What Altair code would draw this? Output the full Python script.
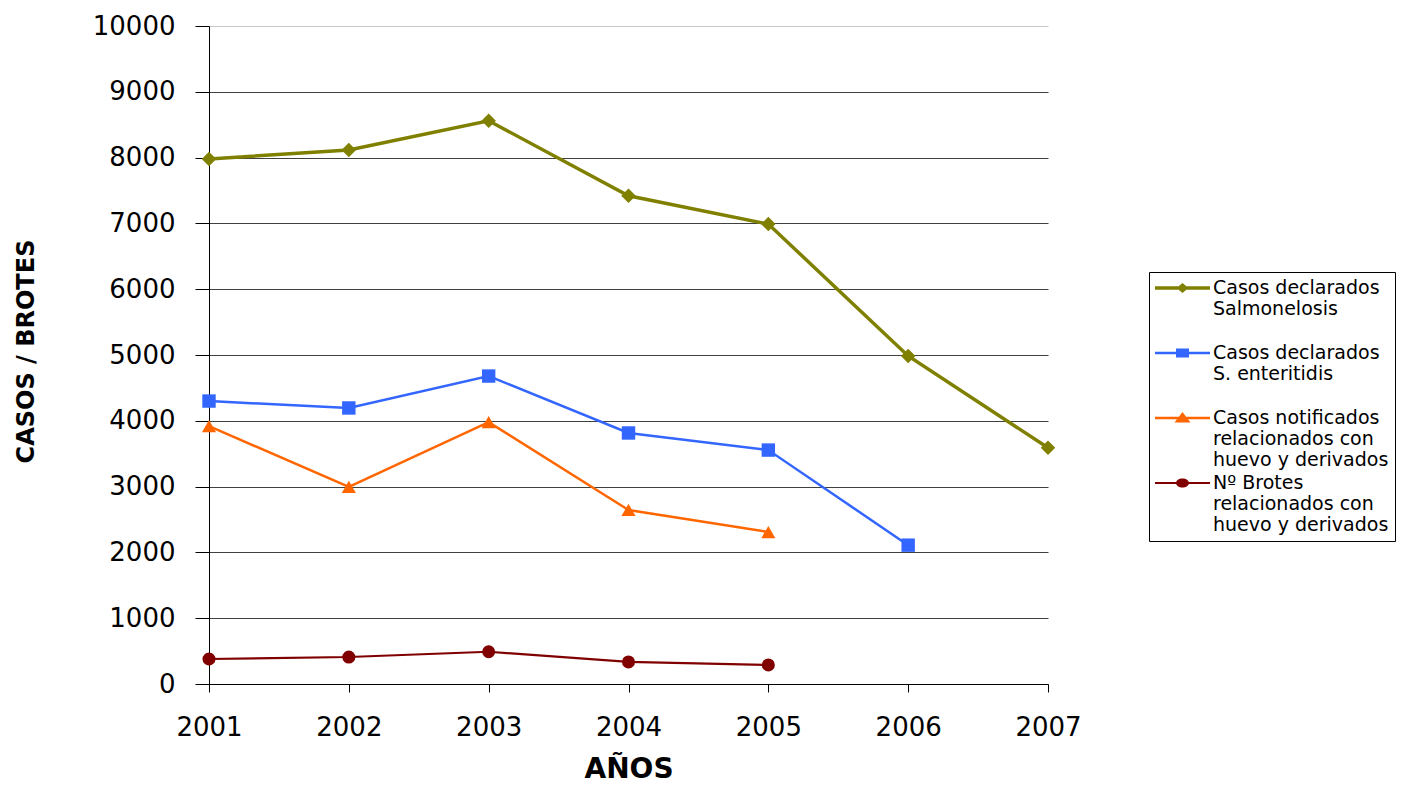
import altair as alt
import pandas as pd

years = [2001, 2002, 2003, 2004, 2005, 2006, 2007]
salmonelosis = [7980, 8115, 8560, 7420, 6990, 4985, 3590]
enteritidis = [4300, 4195, 4680, 3815, 3555, 2110, None]
notificados = [3920, 2995, 3980, 2645, 2310, None, None]
brotes = [380, 410, 490, 335, 290, None, None]

series_names = [
    "Casos declarados|Salmonelosis",
    "Casos declarados|S. enteritidis",
    "Casos notificados|relacionados con|huevo y derivados",
    "Nº Brotes|relacionados con|huevo y derivados",
]
series_values = [salmonelosis, enteritidis, notificados, brotes]
colors = ["#808000", "#3366FF", "#FF6600", "#800000"]
shapes = ["diamond", "square", "triangle-up", "circle"]
sizes = [210, 180, 200, 170]
widths = [3.5, 2.5, 2.5, 2.2]

# legend symbols: line segment + marker (units of 10 px, symbol centre 1 unit from left)
legend_paths = [
    "M-1,-0.175H4.5V0.175H-1Z M1.75,-0.5L2.35,0L1.75,0.5L1.15,0Z",
    "M-1,-0.125H4.5V0.125H-1Z M1.1,-0.45H2.4V0.45H1.1Z",
    "M-1,-0.125H4.5V0.125H-1Z M1.75,-0.6L2.55,0.45H0.95Z",
    "M-1,-0.1H4.5V0.1H-1Z M1.1,0A0.65,0.45 0 1,1 2.4,0A0.65,0.45 0 1,1 1.1,0Z",
]

rows = []
for name, vals in zip(series_names, series_values):
    for yr, v in zip(years, vals):
        if v is not None:
            rows.append({"year": yr, "value": v, "series": name})
df = pd.DataFrame(rows)

FONT = "DejaVu Sans"

x_enc = alt.X(
    "year:Q",
    scale=alt.Scale(domain=[2001, 2007], nice=False, zero=False),
    axis=alt.Axis(
        values=years, format="d", grid=False, domainColor="black", tickColor="black",
        tickSize=8, labelFontSize=26, labelFont=FONT, labelColor="black",
        labelPadding=22, title="AÑOS", titleFont=FONT, titleFontSize=28,
        titleFontWeight="bold", titleColor="black", titleY=85, titleBaseline="middle",
        labelFlush=False,
    ),
)
y_enc = alt.Y(
    "value:Q",
    scale=alt.Scale(domain=[0, 10000], nice=False),
    axis=alt.Axis(
        values=list(range(0, 10001, 1000)), format="d",
        gridColor={"condition": {"test": "datum.value == 10000", "value": "#c8c8c8"}, "value": "#404040"},
        gridWidth=1, domainColor="black", tickColor="black", tickSize=14,
        labelFontSize=26, labelFont=FONT, labelColor="black", labelPadding=20,
        title="CASOS / BROTES", titleFont=FONT, titleFontSize=24, titleFontWeight="bold",
        titleColor="black", titleAngle=-90, titleX=-183, titleY=325,
        titleAlign="center", titleBaseline="middle",
    ),
)

layers = []
for name, c, sh, sz, w in zip(series_names, colors, shapes, sizes, widths):
    base = alt.Chart(df).transform_filter(alt.datum.series == name)
    layers.append(base.mark_line(color=c, strokeWidth=w).encode(x=x_enc, y=y_enc))
    layers.append(
        base.mark_point(shape=sh, filled=True, size=sz, color=c, opacity=1).encode(x=x_enc, y=y_enc)
    )

LABEL_EXPR = "split(datum.label, '|')"
legend_layer = (
    alt.Chart(df)
    .transform_filter("false")
    .mark_point(filled=True, opacity=1)
    .encode(
        x=x_enc,
        y=y_enc,
        color=alt.Color("series:N", scale=alt.Scale(domain=series_names, range=colors),
                        legend=alt.Legend(title=None, labelExpr=LABEL_EXPR)),
        shape=alt.Shape("series:N", scale=alt.Scale(domain=series_names, range=legend_paths),
                        legend=alt.Legend(title=None, labelExpr=LABEL_EXPR)),
    )
)
layers.append(legend_layer)

chart = (
    alt.layer(*layers)
    .properties(
        width=839, height=658,
        autosize=alt.AutoSizeParams(type="none"),
        padding={"left": 201, "top": 18, "right": 355, "bottom": 100},
    )
    .configure_view(stroke=None)
    .configure_legend(
        orient="none", legendX=940, legendY=246, strokeColor="black", padding=6,
        labelFont=FONT, labelFontSize=19, labelColor="black", labelLimit=400,
        labelBaseline="middle", labelOffset=38,
        symbolSize=400, symbolStrokeWidth=0, gridAlign="all", rowPadding=3,
        fillColor="white",
    )
)

chart.save("out.html", embed_options={"renderer": "svg", "actions": False})
